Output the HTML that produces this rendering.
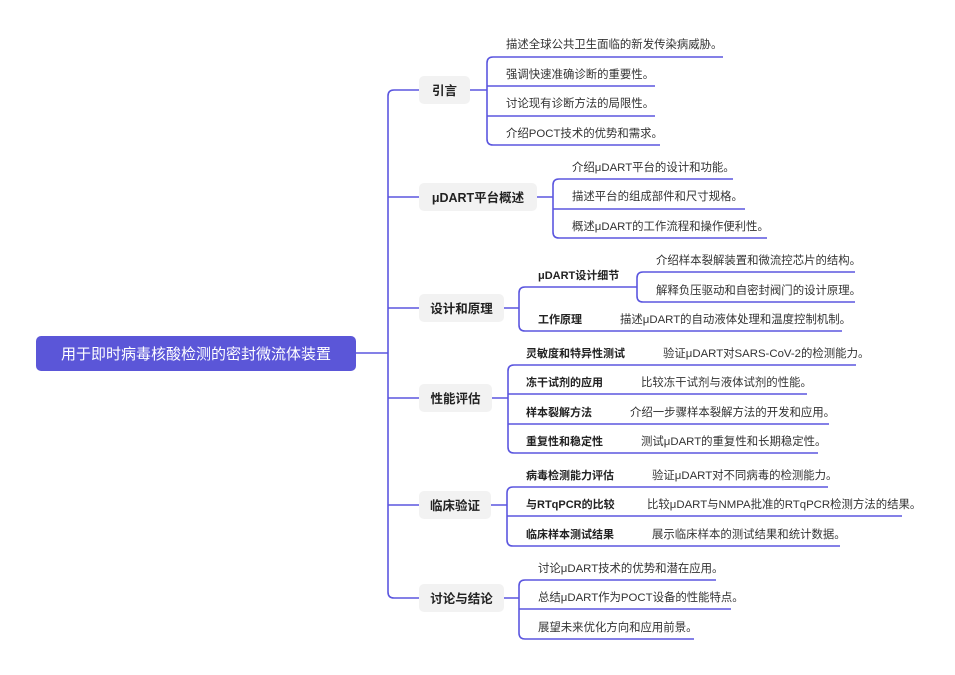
<!DOCTYPE html>
<html><head><meta charset="utf-8"><style>
html,body{margin:0;padding:0;background:#fff;}
svg{display:block;font-family:"Liberation Sans","Noto Sans CJK SC",sans-serif;}
.l{fill:none;stroke:#5b56df;stroke-width:1.6;}
.b{fill:#f2f2f2;}
.t{font-size:11.4px;fill:#333;}
.s{font-size:11px;font-weight:bold;fill:#222;}
.m{font-size:12.5px;font-weight:bold;fill:#222;text-anchor:middle;}
</style></head><body>
<svg width="955" height="675" viewBox="0 0 955 675">
<rect x="36" y="336" width="320" height="35" rx="5" fill="#5b56d8"/>
<text x="196" y="359" text-anchor="middle" font-size="15" fill="#fff">用于即时病毒核酸检测的密封微流体装置</text>
<path class="l" d="M356,353 H388 M388,96 V592 M388,96 Q388,90 394,90 H419 M388,197 H419 M388,308 H419 M388,398 H419 M388,505 H419 M388,592 Q388,598 394,598 H419"/>
<rect class="b" x="419" y="76" width="51" height="28" rx="5"/><text class="m" x="444.5" y="95">引言</text>
<rect class="b" x="419" y="183" width="118" height="28" rx="5"/><text class="m" x="478" y="202">μDART平台概述</text>
<rect class="b" x="419" y="294" width="85" height="28" rx="5"/><text class="m" x="461.5" y="313">设计和原理</text>
<rect class="b" x="419" y="384" width="73" height="28" rx="5"/><text class="m" x="455.5" y="403">性能评估</text>
<rect class="b" x="419" y="491" width="72" height="28" rx="5"/><text class="m" x="455" y="510">临床验证</text>
<rect class="b" x="419" y="584" width="85" height="28" rx="5"/><text class="m" x="461.5" y="603">讨论与结论</text>

<path class="l" d="M470,90 H487 M487,63 V139 M487,63 Q487,57 493,57 H723 M487,86 H655 M487,116 H655 M487,139 Q487,145 493,145 H660"/>
<text class="t" x="506" y="48">描述全球公共卫生面临的新发传染病威胁。</text>
<text class="t" x="506" y="78">强调快速准确诊断的重要性。</text>
<text class="t" x="506" y="107">讨论现有诊断方法的局限性。</text>
<text class="t" x="506" y="137">介绍POCT技术的优势和需求。</text>

<path class="l" d="M537,197 H553 M553,185 V232 M553,185 Q553,179 559,179 H733 M553,209 H745 M553,232 Q553,238 559,238 H767"/>
<text class="t" x="572" y="171">介绍μDART平台的设计和功能。</text>
<text class="t" x="572" y="200">描述平台的组成部件和尺寸规格。</text>
<text class="t" x="572" y="230">概述μDART的工作流程和操作便利性。</text>

<path class="l" d="M504,308 H519 M519,293 V325 M519,293 Q519,287 525,287 H637 M519,325 Q519,331 525,331 H842 M637,278 V296 M637,278 Q637,272 643,272 H855 M637,296 Q637,302 643,302 H855"/>
<text class="s" x="538" y="279">μDART设计细节</text>
<text class="s" x="538" y="323">工作原理</text>
<text class="t" x="620" y="323">描述μDART的自动液体处理和温度控制机制。</text>
<text class="t" x="656" y="264">介绍样本裂解装置和微流控芯片的结构。</text>
<text class="t" x="656" y="294">解释负压驱动和自密封阀门的设计原理。</text>

<path class="l" d="M492,398 H508 M508,371 V447 M508,371 Q508,365 514,365 H856 M508,394 H807 M508,424 H829 M508,447 Q508,453 514,453 H818"/>
<text class="s" x="526" y="357">灵敏度和特异性测试</text><text class="t" x="663" y="357">验证μDART对SARS-CoV-2的检测能力。</text>
<text class="s" x="526" y="386">冻干试剂的应用</text><text class="t" x="641" y="386">比较冻干试剂与液体试剂的性能。</text>
<text class="s" x="526" y="416">样本裂解方法</text><text class="t" x="630" y="416">介绍一步骤样本裂解方法的开发和应用。</text>
<text class="s" x="526" y="445">重复性和稳定性</text><text class="t" x="641" y="445">测试μDART的重复性和长期稳定性。</text>

<path class="l" d="M491,505 H507 M507,493 V540 M507,493 Q507,487 513,487 H828 M507,516 H902 M507,540 Q507,546 513,546 H840"/>
<text class="s" x="526" y="479">病毒检测能力评估</text><text class="t" x="652" y="479">验证μDART对不同病毒的检测能力。</text>
<text class="s" x="526" y="508">与RTqPCR的比较</text><text class="t" x="647" y="508">比较μDART与NMPA批准的RTqPCR检测方法的结果。</text>
<text class="s" x="526" y="538">临床样本测试结果</text><text class="t" x="652" y="538">展示临床样本的测试结果和统计数据。</text>

<path class="l" d="M504,598 H519 M519,586 V633 M519,586 Q519,580 525,580 H716 M519,609 H731 M519,633 Q519,639 525,639 H694"/>
<text class="t" x="538" y="572">讨论μDART技术的优势和潜在应用。</text>
<text class="t" x="538" y="601">总结μDART作为POCT设备的性能特点。</text>
<text class="t" x="538" y="631">展望未来优化方向和应用前景。</text>
</svg>
</body></html>
